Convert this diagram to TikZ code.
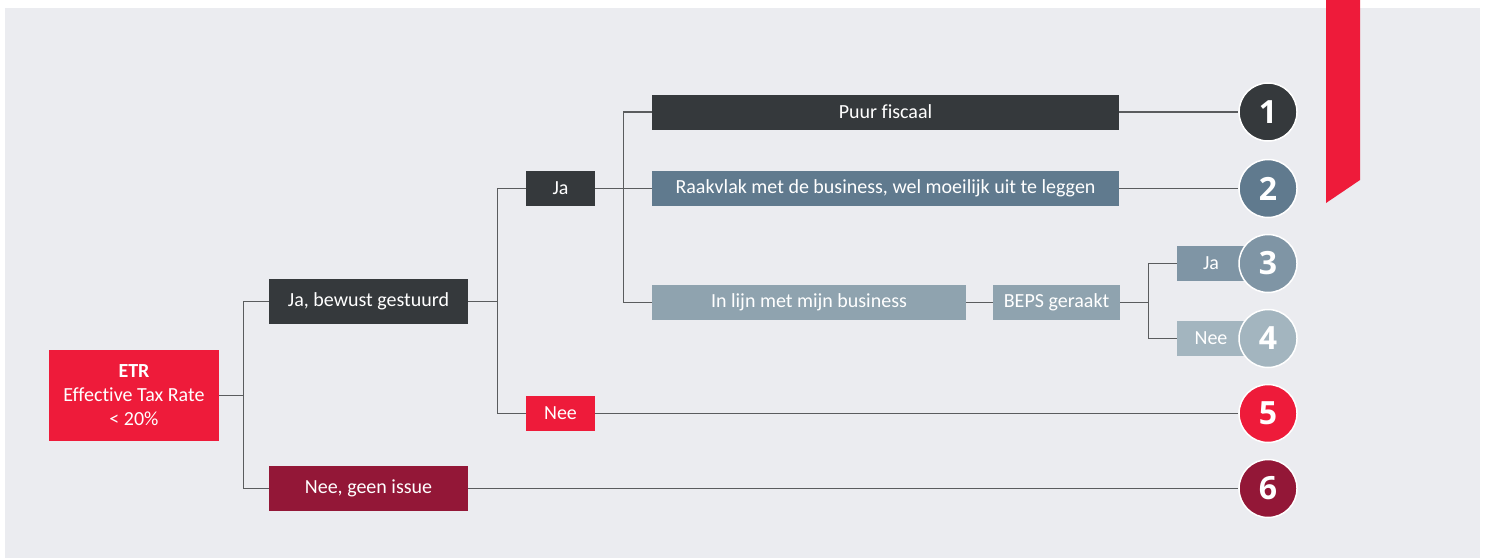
\documentclass[tikz,border=0pt]{standalone}
\usepackage{fontspec}
\setmainfont[Ligatures=NoCommon]{Carlito}
\newfontfamily\numfont{Open Sans}
\usepackage{tikz}

\definecolor{bggrey}{HTML}{EBECF0}
\definecolor{etrred}{HTML}{EE1B3A}
\definecolor{darkbox}{HTML}{35393C}
\definecolor{winebox}{HTML}{931737}
\definecolor{slatebox}{HTML}{607A8E}
\definecolor{lijnbox}{HTML}{8FA3AF}
\definecolor{jabox}{HTML}{7F95A5}
\definecolor{neebox}{HTML}{A3B5BF}
\definecolor{linkgrey}{HTML}{5A5C5E}

\tikzset{
  box/.style={rectangle, inner sep=0pt, minimum height=35, text=white,
    font=\fontsize{20}{24}\selectfont, align=center},
  outcome/.style={circle, inner sep=0pt, minimum size=58, draw=white,
    line width=1.5pt, text=white, font=\numfont\bfseries\fontsize{32}{32}\selectfont},
  link/.style={draw=linkgrey, line width=1.2pt},
}

\begin{document}
\begin{tikzpicture}[x=1pt, y=-1pt]
	
	\useasboundingbox (0,0) rectangle (1485,558);
	\fill[bggrey] (5,8) rectangle (1480,558);
	\fill[etrred] (1326,0) -- (1360,0) -- (1360,180) -- (1326,203) -- cycle;
	
	\node[box, fill=etrred, minimum width=170, minimum height=91] (etr) at (134, 395.5)
		{\textbf{ETR}\\Effective Tax Rate\\< 20\%};
	\node[box, fill=darkbox, minimum width=199, minimum height=45] (bewust) at (368.5, 301.5) {Ja, bewust gestuurd};
	\node[box, fill=winebox, minimum width=199, minimum height=45] (geen) at (368.5, 488.5) {Nee, geen issue};
	
	\node[box, fill=darkbox, minimum width=69] (ja) at (560.5, 188.5) {Ja};
	\node[box, fill=etrred, minimum width=69] (nee) at (560.5, 413.5) {Nee};
	
	\node[box, fill=darkbox, minimum width=467] (puur) at (885.5, 112) {Puur fiscaal};
	\node[box, fill=slatebox, minimum width=467] (raak) at (885.5, 188.5) {Raakvlak met de business, wel moeilijk uit te leggen};
	\node[box, fill=lijnbox, minimum width=314] (lijn) at (809, 302.5) {In lijn met mijn business};
	\node[box, fill=lijnbox, minimum width=127] (beps) at (1056.5, 302.5) {BEPS geraakt};
	
	\node[box, fill=jabox, minimum width=68] (bepsja) at (1211, 263.5) {Ja};
	\node[box, fill=neebox, minimum width=68] (bepsnee) at (1211, 338.5) {Nee};
	
	% tree connectors
	\draw[link] (etr.east) -- ++(24,0) |- (bewust.west);
	\draw[link] (etr.east) -- ++(24,0) |- (geen.west);
	\draw[link] (bewust.east) -- ++(29,0) |- (ja.west);
	\draw[link] (bewust.east) -- ++(29,0) |- (nee.west);
	\draw[link] (ja.east) -- ++(28,0) |- (puur.west);
	\draw[link] (ja.east) -- (raak.west);
	\draw[link] (ja.east) -- ++(28,0) |- (lijn.west);
	\draw[link] (lijn) -- (beps);
	\draw[link] (beps.east) -- ++(28,0) |- (bepsja.west);
	\draw[link] (beps.east) -- ++(28,0) |- (bepsnee.west);
	
	% outcomes
	\node[outcome, fill=darkbox] (o1) at (1268, 112) {1};
	\node[outcome, fill=slatebox] (o2) at (1268, 188.5) {2};
	\node[outcome, fill=jabox] (o3) at (1268, 263.5) {3};
	\node[outcome, fill=neebox] (o4) at (1268, 338.5) {4};
	\node[outcome, fill=etrred] (o5) at (1268, 413.5) {5};
	\node[outcome, fill=winebox] (o6) at (1268, 488.5) {6};
	
	\draw[link] (puur) -- (o1);
	\draw[link] (raak) -- (o2);
	\draw[link] (nee) -- (o5);
	\draw[link] (geen) -- (o6);
	
\end{tikzpicture}
\end{document}
